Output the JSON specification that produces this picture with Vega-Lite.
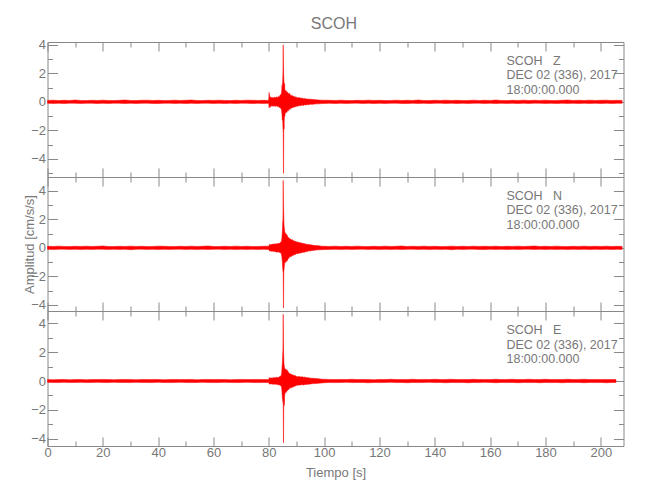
{
"$schema": "https://vega.github.io/schema/vega-lite/v6.json",
"padding": {"left": 22.5, "top": 16, "right": 5, "bottom": 5},
"title": {"text": "SCOH", "fontSize": 16, "color": "#777777", "fontWeight": "normal", "anchor": "middle", "offset": 6, "dx": 10},
"datasets": {
"z": [
{"t":0,"lo":-0.09,"hi":0.1},{"t":2,"lo":-0.11,"hi":0.12},{"t":4,"lo":-0.1,"hi":0.09},{"t":6,"lo":-0.12,"hi":0.11},{"t":8,"lo":-0.09,"hi":0.1},{"t":10,"lo":-0.1,"hi":0.13},{"t":12,"lo":-0.11,"hi":0.1},{"t":14,"lo":-0.1,"hi":0.09},{"t":16,"lo":-0.09,"hi":0.11},{"t":18,"lo":-0.12,"hi":0.1},{"t":20,"lo":-0.1,"hi":0.12},{"t":22,"lo":-0.11,"hi":0.1},{"t":24,"lo":-0.09,"hi":0.09},{"t":26,"lo":-0.1,"hi":0.11},{"t":28,"lo":-0.12,"hi":0.13},{"t":30,"lo":-0.1,"hi":0.1},{"t":32,"lo":-0.11,"hi":0.09},{"t":34,"lo":-0.1,"hi":0.11},{"t":36,"lo":-0.09,"hi":0.12},{"t":38,"lo":-0.11,"hi":0.1},{"t":40,"lo":-0.12,"hi":0.11},{"t":42,"lo":-0.1,"hi":0.09},{"t":44,"lo":-0.09,"hi":0.1},{"t":46,"lo":-0.11,"hi":0.12},{"t":48,"lo":-0.1,"hi":0.1},{"t":50,"lo":-0.12,"hi":0.11},{"t":52,"lo":-0.1,"hi":0.13},{"t":54,"lo":-0.11,"hi":0.1},{"t":56,"lo":-0.1,"hi":0.09},{"t":58,"lo":-0.09,"hi":0.11},{"t":60,"lo":-0.11,"hi":0.1},{"t":62,"lo":-0.1,"hi":0.12},{"t":64,"lo":-0.12,"hi":0.1},{"t":66,"lo":-0.1,"hi":0.09},{"t":68,"lo":-0.11,"hi":0.11},{"t":70,"lo":-0.09,"hi":0.1},{"t":72,"lo":-0.1,"hi":0.12},{"t":74,"lo":-0.12,"hi":0.11},{"t":76,"lo":-0.1,"hi":0.1},{"t":78,"lo":-0.11,"hi":0.11},{"t":79.9,"lo":-0.1,"hi":0.1},
{"t":80.0,"lo":-0.2,"hi":0.3},{"t":80.1,"lo":-0.42,"hi":0.66},{"t":80.25,"lo":-0.35,"hi":0.45},{"t":80.5,"lo":-0.38,"hi":0.3},{"t":80.75,"lo":-0.25,"hi":0.35},{"t":81.0,"lo":-0.3,"hi":0.28},{"t":81.25,"lo":-0.27,"hi":0.32},{"t":81.5,"lo":-0.33,"hi":0.25},{"t":81.75,"lo":-0.26,"hi":0.3},{"t":82.0,"lo":-0.3,"hi":0.34},{"t":82.25,"lo":-0.28,"hi":0.27},{"t":82.5,"lo":-0.32,"hi":0.3},{"t":82.75,"lo":-0.27,"hi":0.36},{"t":83.0,"lo":-0.3,"hi":0.3},{"t":83.25,"lo":-0.35,"hi":0.33},{"t":83.5,"lo":-0.3,"hi":0.38},{"t":83.75,"lo":-0.4,"hi":0.35},{"t":84.0,"lo":-0.38,"hi":0.45},{"t":84.25,"lo":-0.45,"hi":0.5},{"t":84.5,"lo":-0.5,"hi":0.55},{"t":84.6,"lo":-0.6,"hi":0.7},{"t":84.7,"lo":-0.75,"hi":0.9},{"t":84.8,"lo":-1.0,"hi":1.2},{"t":84.9,"lo":-1.3,"hi":1.0},{"t":85.0,"lo":-1.1,"hi":1.45},{"t":85.1,"lo":-1.8,"hi":2.0},{"t":85.2,"lo":-2.2,"hi":4.0},{"t":85.3,"lo":-5.02,"hi":2.5},{"t":85.4,"lo":-1.6,"hi":1.8},{"t":85.5,"lo":-1.9,"hi":1.3},{"t":85.6,"lo":-1.2,"hi":1.1},{"t":85.7,"lo":-0.9,"hi":1.3},{"t":85.8,"lo":-1.0,"hi":0.9},{"t":85.9,"lo":-0.75,"hi":0.8},{"t":86.0,"lo":-0.8,"hi":0.75},{"t":86.25,"lo":-0.7,"hi":0.8},{"t":86.5,"lo":-0.75,"hi":0.65},{"t":86.75,"lo":-0.6,"hi":0.7},{"t":87.0,"lo":-0.65,"hi":0.6},{"t":87.25,"lo":-0.5,"hi":0.55},{"t":87.5,"lo":-0.55,"hi":0.6},{"t":87.75,"lo":-0.5,"hi":0.45},{"t":88.0,"lo":-0.42,"hi":0.5},{"t":88.25,"lo":-0.45,"hi":0.42},{"t":88.5,"lo":-0.4,"hi":0.45},{"t":88.75,"lo":-0.42,"hi":0.38},{"t":89.0,"lo":-0.35,"hi":0.4},{"t":89.25,"lo":-0.38,"hi":0.35},{"t":89.5,"lo":-0.32,"hi":0.38},{"t":89.75,"lo":-0.35,"hi":0.3},{"t":90.0,"lo":-0.3,"hi":0.33},{"t":90.5,"lo":-0.3,"hi":0.28},{"t":91.0,"lo":-0.25,"hi":0.3},{"t":91.5,"lo":-0.27,"hi":0.25},{"t":92.0,"lo":-0.22,"hi":0.27},{"t":92.5,"lo":-0.25,"hi":0.22},{"t":93.0,"lo":-0.2,"hi":0.24},{"t":93.5,"lo":-0.22,"hi":0.2},{"t":94.0,"lo":-0.18,"hi":0.21},{"t":94.5,"lo":-0.2,"hi":0.18},{"t":95.0,"lo":-0.16,"hi":0.19},{"t":96.0,"lo":-0.17,"hi":0.16},{"t":97.0,"lo":-0.14,"hi":0.15},{"t":98.0,"lo":-0.14,"hi":0.13},{"t":99.0,"lo":-0.12,"hi":0.12},{"t":100,"lo":-0.11,"hi":0.12},
{"t":102,"lo":-0.1,"hi":0.11},{"t":104,"lo":-0.12,"hi":0.1},{"t":106,"lo":-0.1,"hi":0.12},{"t":108,"lo":-0.11,"hi":0.1},{"t":110,"lo":-0.1,"hi":0.09},{"t":112,"lo":-0.09,"hi":0.11},{"t":114,"lo":-0.11,"hi":0.1},{"t":116,"lo":-0.1,"hi":0.12},{"t":118,"lo":-0.12,"hi":0.1},{"t":120,"lo":-0.1,"hi":0.11},{"t":122,"lo":-0.11,"hi":0.09},{"t":124,"lo":-0.1,"hi":0.1},{"t":126,"lo":-0.09,"hi":0.12},{"t":128,"lo":-0.11,"hi":0.1},{"t":130,"lo":-0.12,"hi":0.11},{"t":132,"lo":-0.1,"hi":0.1},{"t":134,"lo":-0.11,"hi":0.13},{"t":136,"lo":-0.1,"hi":0.1},{"t":138,"lo":-0.12,"hi":0.09},{"t":140,"lo":-0.1,"hi":0.11},{"t":142,"lo":-0.09,"hi":0.1},{"t":144,"lo":-0.11,"hi":0.12},{"t":146,"lo":-0.1,"hi":0.1},{"t":148,"lo":-0.12,"hi":0.11},{"t":150,"lo":-0.1,"hi":0.09},{"t":152,"lo":-0.11,"hi":0.1},{"t":154,"lo":-0.1,"hi":0.12},{"t":156,"lo":-0.09,"hi":0.1},{"t":158,"lo":-0.11,"hi":0.11},{"t":160,"lo":-0.1,"hi":0.1},{"t":162,"lo":-0.12,"hi":0.13},{"t":164,"lo":-0.1,"hi":0.1},{"t":166,"lo":-0.11,"hi":0.09},{"t":168,"lo":-0.1,"hi":0.11},{"t":170,"lo":-0.12,"hi":0.1},{"t":172,"lo":-0.1,"hi":0.12},{"t":174,"lo":-0.11,"hi":0.1},{"t":176,"lo":-0.09,"hi":0.11},{"t":178,"lo":-0.1,"hi":0.1},{"t":180,"lo":-0.11,"hi":0.12},{"t":182,"lo":-0.1,"hi":0.09},{"t":184,"lo":-0.12,"hi":0.1},{"t":186,"lo":-0.1,"hi":0.11},{"t":188,"lo":-0.11,"hi":0.13},{"t":190,"lo":-0.1,"hi":0.1},{"t":192,"lo":-0.12,"hi":0.11},{"t":194,"lo":-0.1,"hi":0.1},{"t":196,"lo":-0.11,"hi":0.12},{"t":198,"lo":-0.1,"hi":0.1},{"t":200,"lo":-0.12,"hi":0.11},{"t":202,"lo":-0.1,"hi":0.12},{"t":204,"lo":-0.11,"hi":0.1},{"t":206,"lo":-0.1,"hi":0.11},{"t":207.7,"lo":-0.1,"hi":0.1}
],
"n": [
{"t":0,"lo":-0.1,"hi":0.11},{"t":2,"lo":-0.12,"hi":0.1},{"t":4,"lo":-0.1,"hi":0.12},{"t":6,"lo":-0.09,"hi":0.1},{"t":8,"lo":-0.11,"hi":0.09},{"t":10,"lo":-0.1,"hi":0.11},{"t":12,"lo":-0.12,"hi":0.1},{"t":14,"lo":-0.1,"hi":0.12},{"t":16,"lo":-0.11,"hi":0.1},{"t":18,"lo":-0.09,"hi":0.11},{"t":20,"lo":-0.1,"hi":0.13},{"t":22,"lo":-0.12,"hi":0.1},{"t":24,"lo":-0.1,"hi":0.09},{"t":26,"lo":-0.11,"hi":0.11},{"t":28,"lo":-0.1,"hi":0.1},{"t":30,"lo":-0.13,"hi":0.12},{"t":32,"lo":-0.1,"hi":0.1},{"t":34,"lo":-0.09,"hi":0.11},{"t":36,"lo":-0.11,"hi":0.09},{"t":38,"lo":-0.1,"hi":0.1},{"t":40,"lo":-0.12,"hi":0.12},{"t":42,"lo":-0.1,"hi":0.11},{"t":44,"lo":-0.11,"hi":0.1},{"t":46,"lo":-0.1,"hi":0.09},{"t":48,"lo":-0.09,"hi":0.11},{"t":50,"lo":-0.11,"hi":0.1},{"t":52,"lo":-0.1,"hi":0.12},{"t":54,"lo":-0.12,"hi":0.1},{"t":56,"lo":-0.1,"hi":0.11},{"t":58,"lo":-0.11,"hi":0.13},{"t":60,"lo":-0.1,"hi":0.1},{"t":62,"lo":-0.09,"hi":0.09},{"t":64,"lo":-0.11,"hi":0.11},{"t":66,"lo":-0.1,"hi":0.1},{"t":68,"lo":-0.12,"hi":0.12},{"t":70,"lo":-0.1,"hi":0.1},{"t":72,"lo":-0.11,"hi":0.11},{"t":74,"lo":-0.1,"hi":0.09},{"t":76,"lo":-0.12,"hi":0.1},{"t":78,"lo":-0.1,"hi":0.11},{"t":80.0,"lo":-0.12,"hi":0.12},
{"t":80.3,"lo":-0.23,"hi":0.25},{"t":80.5,"lo":-0.22,"hi":0.2},{"t":80.75,"lo":-0.2,"hi":0.25},{"t":81.0,"lo":-0.25,"hi":0.22},{"t":81.25,"lo":-0.22,"hi":0.27},{"t":81.5,"lo":-0.26,"hi":0.23},{"t":81.75,"lo":-0.24,"hi":0.28},{"t":82.0,"lo":-0.27,"hi":0.25},{"t":82.25,"lo":-0.25,"hi":0.3},{"t":82.5,"lo":-0.28,"hi":0.26},{"t":82.75,"lo":-0.3,"hi":0.28},{"t":83.0,"lo":-0.27,"hi":0.3},{"t":83.25,"lo":-0.3,"hi":0.27},{"t":83.5,"lo":-0.28,"hi":0.32},{"t":83.75,"lo":-0.33,"hi":0.3},{"t":84.0,"lo":-0.32,"hi":0.35},{"t":84.25,"lo":-0.37,"hi":0.4},{"t":84.5,"lo":-0.42,"hi":0.45},{"t":84.6,"lo":-0.5,"hi":0.5},{"t":84.7,"lo":-0.6,"hi":0.65},{"t":84.8,"lo":-0.8,"hi":0.9},{"t":84.9,"lo":-1.0,"hi":1.2},{"t":85.0,"lo":-1.4,"hi":1.7},{"t":85.1,"lo":-1.6,"hi":2.0},{"t":85.2,"lo":-1.8,"hi":4.73},{"t":85.3,"lo":-4.22,"hi":3.0},{"t":85.4,"lo":-1.7,"hi":2.2},{"t":85.5,"lo":-1.5,"hi":1.6},{"t":85.6,"lo":-1.3,"hi":1.4},{"t":85.7,"lo":-1.1,"hi":1.2},{"t":85.8,"lo":-1.0,"hi":1.1},{"t":85.9,"lo":-1.05,"hi":1.0},{"t":86.0,"lo":-0.95,"hi":1.05},{"t":86.25,"lo":-1.0,"hi":0.9},{"t":86.5,"lo":-0.85,"hi":0.95},{"t":86.75,"lo":-0.9,"hi":0.8},{"t":87.0,"lo":-0.7,"hi":0.75},{"t":87.25,"lo":-0.75,"hi":0.7},{"t":87.5,"lo":-0.6,"hi":0.65},{"t":87.75,"lo":-0.65,"hi":0.62},{"t":88.0,"lo":-0.58,"hi":0.6},{"t":88.25,"lo":-0.6,"hi":0.55},{"t":88.5,"lo":-0.52,"hi":0.58},{"t":88.75,"lo":-0.55,"hi":0.5},{"t":89.0,"lo":-0.48,"hi":0.52},{"t":89.25,"lo":-0.5,"hi":0.45},{"t":89.5,"lo":-0.44,"hi":0.48},{"t":89.75,"lo":-0.46,"hi":0.44},{"t":90.0,"lo":-0.4,"hi":0.42},{"t":90.5,"lo":-0.42,"hi":0.4},{"t":91.0,"lo":-0.36,"hi":0.38},{"t":91.5,"lo":-0.37,"hi":0.35},{"t":92.0,"lo":-0.32,"hi":0.33},{"t":92.5,"lo":-0.31,"hi":0.3},{"t":93.0,"lo":-0.3,"hi":0.28},{"t":93.5,"lo":-0.25,"hi":0.26},{"t":94.0,"lo":-0.25,"hi":0.24},{"t":94.5,"lo":-0.21,"hi":0.23},{"t":95.0,"lo":-0.22,"hi":0.21},{"t":95.5,"lo":-0.19,"hi":0.2},{"t":96.0,"lo":-0.19,"hi":0.18},{"t":97.0,"lo":-0.15,"hi":0.16},{"t":98.0,"lo":-0.14,"hi":0.14},{"t":99.0,"lo":-0.13,"hi":0.12},{"t":100,"lo":-0.12,"hi":0.11},
{"t":102,"lo":-0.11,"hi":0.1},{"t":104,"lo":-0.1,"hi":0.12},{"t":106,"lo":-0.12,"hi":0.1},{"t":108,"lo":-0.1,"hi":0.11},{"t":110,"lo":-0.11,"hi":0.1},{"t":112,"lo":-0.1,"hi":0.12},{"t":114,"lo":-0.09,"hi":0.1},{"t":116,"lo":-0.11,"hi":0.09},{"t":118,"lo":-0.1,"hi":0.11},{"t":120,"lo":-0.12,"hi":0.1},{"t":122,"lo":-0.1,"hi":0.12},{"t":124,"lo":-0.11,"hi":0.1},{"t":126,"lo":-0.1,"hi":0.11},{"t":128,"lo":-0.12,"hi":0.13},{"t":130,"lo":-0.1,"hi":0.1},{"t":132,"lo":-0.09,"hi":0.11},{"t":134,"lo":-0.11,"hi":0.1},{"t":136,"lo":-0.1,"hi":0.12},{"t":138,"lo":-0.12,"hi":0.1},{"t":140,"lo":-0.1,"hi":0.11},{"t":142,"lo":-0.11,"hi":0.09},{"t":144,"lo":-0.1,"hi":0.1},{"t":146,"lo":-0.13,"hi":0.12},{"t":148,"lo":-0.1,"hi":0.1},{"t":150,"lo":-0.11,"hi":0.11},{"t":152,"lo":-0.1,"hi":0.1},{"t":154,"lo":-0.09,"hi":0.12},{"t":156,"lo":-0.11,"hi":0.1},{"t":158,"lo":-0.12,"hi":0.11},{"t":160,"lo":-0.1,"hi":0.1},{"t":162,"lo":-0.11,"hi":0.12},{"t":164,"lo":-0.1,"hi":0.09},{"t":166,"lo":-0.12,"hi":0.11},{"t":168,"lo":-0.1,"hi":0.1},{"t":170,"lo":-0.11,"hi":0.12},{"t":172,"lo":-0.1,"hi":0.1},{"t":174,"lo":-0.09,"hi":0.11},{"t":176,"lo":-0.11,"hi":0.13},{"t":178,"lo":-0.1,"hi":0.1},{"t":180,"lo":-0.12,"hi":0.11},{"t":182,"lo":-0.1,"hi":0.1},{"t":184,"lo":-0.11,"hi":0.12},{"t":186,"lo":-0.1,"hi":0.1},{"t":188,"lo":-0.12,"hi":0.09},{"t":190,"lo":-0.1,"hi":0.11},{"t":192,"lo":-0.11,"hi":0.1},{"t":194,"lo":-0.1,"hi":0.12},{"t":196,"lo":-0.12,"hi":0.1},{"t":198,"lo":-0.1,"hi":0.11},{"t":200,"lo":-0.11,"hi":0.1},{"t":202,"lo":-0.1,"hi":0.12},{"t":204,"lo":-0.12,"hi":0.1},{"t":206,"lo":-0.1,"hi":0.11},{"t":207.7,"lo":-0.11,"hi":0.1}
],
"e": [
{"t":0,"lo":-0.09,"hi":0.1},{"t":2,"lo":-0.1,"hi":0.09},{"t":4,"lo":-0.11,"hi":0.1},{"t":6,"lo":-0.09,"hi":0.11},{"t":8,"lo":-0.1,"hi":0.09},{"t":10,"lo":-0.1,"hi":0.1},{"t":12,"lo":-0.09,"hi":0.11},{"t":14,"lo":-0.11,"hi":0.09},{"t":16,"lo":-0.1,"hi":0.1},{"t":18,"lo":-0.09,"hi":0.1},{"t":20,"lo":-0.1,"hi":0.11},{"t":22,"lo":-0.11,"hi":0.1},{"t":24,"lo":-0.09,"hi":0.09},{"t":26,"lo":-0.1,"hi":0.1},{"t":28,"lo":-0.1,"hi":0.11},{"t":30,"lo":-0.11,"hi":0.1},{"t":32,"lo":-0.09,"hi":0.09},{"t":34,"lo":-0.1,"hi":0.11},{"t":36,"lo":-0.1,"hi":0.1},{"t":38,"lo":-0.11,"hi":0.1},{"t":40,"lo":-0.09,"hi":0.11},{"t":42,"lo":-0.1,"hi":0.09},{"t":44,"lo":-0.11,"hi":0.1},{"t":46,"lo":-0.1,"hi":0.11},{"t":48,"lo":-0.09,"hi":0.1},{"t":50,"lo":-0.1,"hi":0.1},{"t":52,"lo":-0.11,"hi":0.11},{"t":54,"lo":-0.1,"hi":0.09},{"t":56,"lo":-0.09,"hi":0.1},{"t":58,"lo":-0.1,"hi":0.11},{"t":60,"lo":-0.11,"hi":0.1},{"t":62,"lo":-0.1,"hi":0.1},{"t":64,"lo":-0.09,"hi":0.11},{"t":66,"lo":-0.1,"hi":0.09},{"t":68,"lo":-0.11,"hi":0.1},{"t":70,"lo":-0.1,"hi":0.11},{"t":72,"lo":-0.09,"hi":0.1},{"t":74,"lo":-0.1,"hi":0.1},{"t":76,"lo":-0.11,"hi":0.11},{"t":78,"lo":-0.1,"hi":0.1},{"t":80.0,"lo":-0.1,"hi":0.1},
{"t":80.1,"lo":-0.22,"hi":0.25},{"t":80.25,"lo":-0.18,"hi":0.2},{"t":80.5,"lo":-0.2,"hi":0.22},{"t":80.75,"lo":-0.22,"hi":0.18},{"t":81.0,"lo":-0.19,"hi":0.23},{"t":81.25,"lo":-0.23,"hi":0.2},{"t":81.5,"lo":-0.2,"hi":0.24},{"t":81.75,"lo":-0.22,"hi":0.21},{"t":82.0,"lo":-0.21,"hi":0.25},{"t":82.25,"lo":-0.24,"hi":0.22},{"t":82.5,"lo":-0.22,"hi":0.24},{"t":82.75,"lo":-0.23,"hi":0.26},{"t":83.0,"lo":-0.25,"hi":0.23},{"t":83.25,"lo":-0.24,"hi":0.27},{"t":83.5,"lo":-0.27,"hi":0.25},{"t":83.75,"lo":-0.26,"hi":0.29},{"t":84.0,"lo":-0.3,"hi":0.3},{"t":84.25,"lo":-0.32,"hi":0.35},{"t":84.5,"lo":-0.35,"hi":0.4},{"t":84.6,"lo":-0.45,"hi":0.5},{"t":84.7,"lo":-0.6,"hi":0.7},{"t":84.8,"lo":-0.9,"hi":1.0},{"t":84.9,"lo":-1.2,"hi":1.3},{"t":85.0,"lo":-1.3,"hi":1.8},{"t":85.1,"lo":-1.5,"hi":2.2},{"t":85.2,"lo":-1.6,"hi":4.63},{"t":85.3,"lo":-4.3,"hi":2.4},{"t":85.4,"lo":-1.4,"hi":1.6},{"t":85.5,"lo":-1.2,"hi":1.2},{"t":85.6,"lo":-1.7,"hi":1.0},{"t":85.7,"lo":-1.1,"hi":0.9},{"t":85.8,"lo":-0.9,"hi":0.85},{"t":85.9,"lo":-0.85,"hi":0.8},{"t":86.0,"lo":-0.75,"hi":0.85},{"t":86.25,"lo":-0.8,"hi":0.75},{"t":86.5,"lo":-0.7,"hi":0.8},{"t":86.75,"lo":-0.65,"hi":0.7},{"t":87.0,"lo":-0.6,"hi":0.65},{"t":87.25,"lo":-0.58,"hi":0.55},{"t":87.5,"lo":-0.48,"hi":0.5},{"t":87.75,"lo":-0.45,"hi":0.5},{"t":88.0,"lo":-0.5,"hi":0.48},{"t":88.25,"lo":-0.42,"hi":0.45},{"t":88.5,"lo":-0.45,"hi":0.42},{"t":88.75,"lo":-0.4,"hi":0.44},{"t":89.0,"lo":-0.4,"hi":0.38},{"t":89.25,"lo":-0.35,"hi":0.4},{"t":89.5,"lo":-0.37,"hi":0.35},{"t":89.75,"lo":-0.32,"hi":0.36},{"t":90.0,"lo":-0.3,"hi":0.32},{"t":90.5,"lo":-0.3,"hi":0.3},{"t":91.0,"lo":-0.27,"hi":0.32},{"t":91.5,"lo":-0.28,"hi":0.28},{"t":92.0,"lo":-0.25,"hi":0.3},{"t":92.5,"lo":-0.27,"hi":0.26},{"t":93.0,"lo":-0.24,"hi":0.27},{"t":93.5,"lo":-0.25,"hi":0.25},{"t":94.0,"lo":-0.22,"hi":0.23},{"t":94.5,"lo":-0.23,"hi":0.22},{"t":95.0,"lo":-0.2,"hi":0.2},{"t":96.0,"lo":-0.18,"hi":0.19},{"t":97.0,"lo":-0.17,"hi":0.17},{"t":98.0,"lo":-0.15,"hi":0.15},{"t":99.0,"lo":-0.14,"hi":0.13},{"t":100,"lo":-0.12,"hi":0.12},
{"t":102,"lo":-0.1,"hi":0.11},{"t":104,"lo":-0.11,"hi":0.1},{"t":106,"lo":-0.1,"hi":0.11},{"t":108,"lo":-0.09,"hi":0.1},{"t":110,"lo":-0.11,"hi":0.12},{"t":112,"lo":-0.1,"hi":0.1},{"t":114,"lo":-0.1,"hi":0.11},{"t":116,"lo":-0.12,"hi":0.1},{"t":118,"lo":-0.1,"hi":0.09},{"t":120,"lo":-0.11,"hi":0.11},{"t":122,"lo":-0.1,"hi":0.1},{"t":124,"lo":-0.09,"hi":0.12},{"t":126,"lo":-0.11,"hi":0.1},{"t":128,"lo":-0.1,"hi":0.11},{"t":130,"lo":-0.12,"hi":0.1},{"t":132,"lo":-0.1,"hi":0.12},{"t":134,"lo":-0.11,"hi":0.1},{"t":136,"lo":-0.1,"hi":0.11},{"t":138,"lo":-0.09,"hi":0.1},{"t":140,"lo":-0.11,"hi":0.12},{"t":142,"lo":-0.1,"hi":0.1},{"t":144,"lo":-0.12,"hi":0.11},{"t":146,"lo":-0.1,"hi":0.12},{"t":148,"lo":-0.11,"hi":0.1},{"t":150,"lo":-0.1,"hi":0.11},{"t":152,"lo":-0.12,"hi":0.1},{"t":154,"lo":-0.1,"hi":0.12},{"t":156,"lo":-0.11,"hi":0.1},{"t":158,"lo":-0.09,"hi":0.11},{"t":160,"lo":-0.1,"hi":0.1},{"t":162,"lo":-0.12,"hi":0.12},{"t":164,"lo":-0.1,"hi":0.1},{"t":166,"lo":-0.11,"hi":0.11},{"t":168,"lo":-0.1,"hi":0.12},{"t":170,"lo":-0.12,"hi":0.1},{"t":172,"lo":-0.1,"hi":0.11},{"t":174,"lo":-0.11,"hi":0.12},{"t":176,"lo":-0.1,"hi":0.1},{"t":178,"lo":-0.12,"hi":0.11},{"t":180,"lo":-0.1,"hi":0.12},{"t":182,"lo":-0.11,"hi":0.1},{"t":184,"lo":-0.1,"hi":0.11},{"t":186,"lo":-0.12,"hi":0.1},{"t":188,"lo":-0.1,"hi":0.12},{"t":190,"lo":-0.11,"hi":0.1},{"t":192,"lo":-0.1,"hi":0.11},{"t":194,"lo":-0.12,"hi":0.12},{"t":196,"lo":-0.1,"hi":0.1},{"t":198,"lo":-0.11,"hi":0.11},{"t":200,"lo":-0.1,"hi":0.1},{"t":202,"lo":-0.12,"hi":0.11},{"t":204,"lo":-0.1,"hi":0.1},{"t":205.5,"lo":-0.1,"hi":0.1}
]
},
"spacing": 0,
"bounds": "flush",
"vconcat": [
{
"width": 576, "height": 135,
"layer": [
{"data": {"name": "z"},
 "mark": {"type": "area", "color": "#ff0000", "stroke": "#ff0000", "strokeWidth": 0.5},
 "encoding": {
  "x": {"field": "t", "type": "quantitative", "scale": {"domain": [0, 208.2], "nice": false, "zero": false},
        "axis": {"orient": "bottom", "values": [0,10,20,30,40,50,60,70,80,90,100,110,120,130,140,150,160,170,180,190,200], "labels": false, "title": null,
                 "tickSize": {"condition": {"test": "datum.value % 20 === 0", "value": -9}, "value": -5}}},
  "y": {"field": "lo", "type": "quantitative", "scale": {"domain": [-5.27, 4.2], "nice": false, "zero": false},
        "axis": {"orient": "left", "values": [-5,-4,-3,-2,-1,0,1,2,3,4], "title": null, "labelPadding": 12,
                 "labelExpr": "datum.value % 2 === 0 ? datum.label : ''",
                 "tickSize": {"condition": {"test": "datum.value % 2 === 0", "value": -10}, "value": -5}}},
  "y2": {"field": "hi"}
 }},
{"data": {"values": [{"lbl": "SCOH\u00a0\u00a0\u00a0Z|DEC 02 (336), 2017|18:00:00.000"}]},
 "mark": {"type": "text", "align": "left", "baseline": "alphabetic", "lineBreak": "|", "lineHeight": 14.5, "fontSize": 12.5, "color": "#777777"},
 "encoding": {
  "x": {"datum": 165.9, "type": "quantitative",
        "axis": {"orient": "top", "values": [0,10,20,30,40,50,60,70,80,90,100,110,120,130,140,150,160,170,180,190,200], "labels": false, "title": null,
                 "tickSize": {"condition": {"test": "datum.value % 20 === 0", "value": -9}, "value": -5}}},
  "y": {"datum": 2.59, "type": "quantitative",
        "axis": {"orient": "right", "values": [-5,-4,-3,-2,-1,0,1,2,3,4], "labels": false, "title": null,
                 "tickSize": {"condition": {"test": "datum.value % 2 === 0", "value": -10}, "value": -5}}},
  "text": {"field": "lbl"}
 }}
],
"resolve": {"axis": {"x": "independent", "y": "independent"}}
},
{
"width": 576, "height": 134,
"layer": [
{"data": {"name": "n"},
 "mark": {"type": "area", "color": "#ff0000", "stroke": "#ff0000", "strokeWidth": 0.5},
 "encoding": {
  "x": {"field": "t", "type": "quantitative", "scale": {"domain": [0, 208.2], "nice": false, "zero": false},
        "axis": {"orient": "bottom", "values": [0,10,20,30,40,50,60,70,80,90,100,110,120,130,140,150,160,170,180,190,200], "labels": false, "title": null,
                 "tickSize": {"condition": {"test": "datum.value % 20 === 0", "value": -9}, "value": -5}}},
  "y": {"field": "lo", "type": "quantitative", "scale": {"domain": [-4.43, 4.97], "nice": false, "zero": false},
        "axis": {"orient": "left", "values": [-4,-3,-2,-1,0,1,2,3,4], "title": "Amplitud [cm/s/s]", "titlePadding": -6, "labelPadding": 12,
                 "labelExpr": "datum.value % 2 === 0 ? datum.label : ''",
                 "tickSize": {"condition": {"test": "datum.value % 2 === 0", "value": -10}, "value": -5}}},
  "y2": {"field": "hi"}
 }},
{"data": {"values": [{"lbl": "SCOH\u00a0\u00a0\u00a0N|DEC 02 (336), 2017|18:00:00.000"}]},
 "mark": {"type": "text", "align": "left", "baseline": "alphabetic", "lineBreak": "|", "lineHeight": 14.5, "fontSize": 12.5, "color": "#777777"},
 "encoding": {
  "x": {"datum": 165.9, "type": "quantitative",
        "axis": {"orient": "top", "values": [0,10,20,30,40,50,60,70,80,90,100,110,120,130,140,150,160,170,180,190,200], "labels": false, "title": null,
                 "tickSize": {"condition": {"test": "datum.value % 20 === 0", "value": -9}, "value": -5}}},
  "y": {"datum": 3.36, "type": "quantitative",
        "axis": {"orient": "right", "values": [-4,-3,-2,-1,0,1,2,3,4], "labels": false, "title": null,
                 "tickSize": {"condition": {"test": "datum.value % 2 === 0", "value": -10}, "value": -5}}},
  "text": {"field": "lbl"}
 }}
],
"resolve": {"axis": {"x": "independent", "y": "independent"}}
},
{
"width": 576, "height": 135,
"layer": [
{"data": {"name": "e"},
 "mark": {"type": "area", "color": "#ff0000", "stroke": "#ff0000", "strokeWidth": 0.5},
 "encoding": {
  "x": {"field": "t", "type": "quantitative", "scale": {"domain": [0, 208.2], "nice": false, "zero": false},
        "axis": {"orient": "bottom", "values": [0,10,20,30,40,50,60,70,80,90,100,110,120,130,140,150,160,170,180,190,200], "title": "Tiempo [s]", "labelPadding": 9, "titlePadding": 3,
                 "labelExpr": "datum.value % 20 === 0 ? datum.label : ''",
                 "tickSize": {"condition": {"test": "datum.value % 20 === 0", "value": -9}, "value": -5}}},
  "y": {"field": "lo", "type": "quantitative", "scale": {"domain": [-4.51, 4.86], "nice": false, "zero": false},
        "axis": {"orient": "left", "values": [-4,-3,-2,-1,0,1,2,3,4], "title": null, "labelPadding": 12,
                 "labelExpr": "datum.value % 2 === 0 ? datum.label : ''",
                 "tickSize": {"condition": {"test": "datum.value % 2 === 0", "value": -10}, "value": -5}}},
  "y2": {"field": "hi"}
 }},
{"data": {"values": [{"lbl": "SCOH\u00a0\u00a0\u00a0E|DEC 02 (336), 2017|18:00:00.000"}]},
 "mark": {"type": "text", "align": "left", "baseline": "alphabetic", "lineBreak": "|", "lineHeight": 14.5, "fontSize": 12.5, "color": "#777777"},
 "encoding": {
  "x": {"datum": 165.9, "type": "quantitative",
        "axis": {"orient": "top", "values": [0,10,20,30,40,50,60,70,80,90,100,110,120,130,140,150,160,170,180,190,200], "labels": false, "title": null,
                 "tickSize": {"condition": {"test": "datum.value % 20 === 0", "value": -9}, "value": -5}}},
  "y": {"datum": 3.26, "type": "quantitative",
        "axis": {"orient": "right", "values": [-4,-3,-2,-1,0,1,2,3,4], "labels": false, "title": null,
                 "tickSize": {"condition": {"test": "datum.value % 2 === 0", "value": -10}, "value": -5}}},
  "text": {"field": "lbl"}
 }}
],
"resolve": {"axis": {"x": "independent", "y": "independent"}}
}
],
"config": {
 "font": "Liberation Sans, sans-serif",
 "view": {"stroke": "#888888", "strokeWidth": 1},
 "axis": {"domain": false, "grid": false, "tickColor": "#888888", "tickWidth": 1, "labelColor": "#777777", "labelFontSize": 13,
          "titleColor": "#777777", "titleFontSize": 13, "titleFontWeight": "normal", "labelFlush": false, "labelOverlap": false}
}
}
